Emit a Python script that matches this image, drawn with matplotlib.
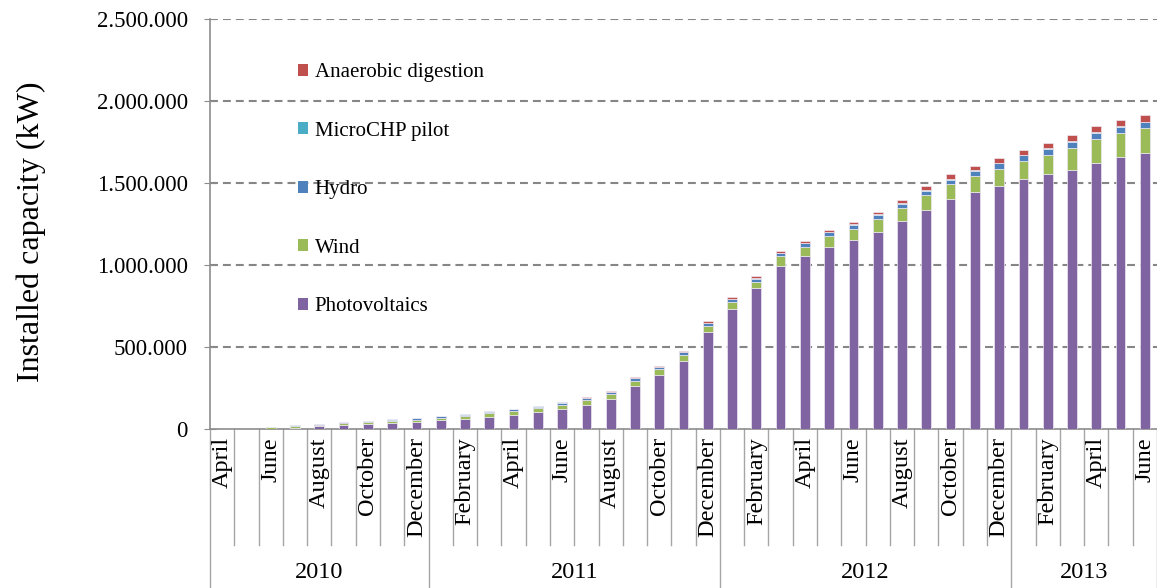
import matplotlib
matplotlib.use("Agg")
import matplotlib.pyplot as plt
from matplotlib.patches import Patch
from matplotlib.ticker import FuncFormatter, MultipleLocator
import matplotlib.transforms as mtransforms
import numpy as np

plt.rcParams['font.family'] = ['Liberation Serif', 'DejaVu Serif']

# months April 2010 .. June 2013
months = ['April', 'May', 'June', 'July', 'August', 'September', 'October', 'November', 'December',
          'January', 'February', 'March', 'April', 'May', 'June', 'July', 'August', 'September',
          'October', 'November', 'December',
          'January', 'February', 'March', 'April', 'May', 'June', 'July', 'August', 'September',
          'October', 'November', 'December',
          'January', 'February', 'March', 'April', 'May', 'June']
years = ['2010', '2011', '2012', '2013']
year_len = [9, 12, 12, 6]

# installed capacity (kW)
pv = [0, 0, 2000, 6000, 17000, 23000, 29000, 35000, 41000,
      53000, 63000, 75000, 87000, 106000, 124000, 148000, 185000, 264000, 331000, 417000, 593000,
      734000, 858000, 996000, 1053000, 1110000, 1150000, 1203000, 1270000, 1337000, 1400000, 1447000, 1484000,
      1526000, 1555000, 1581000, 1624000, 1659000, 1681000]
wind = [0, 0, 8000, 10000, 10000, 13000, 13000, 14000, 16000,
        15000, 16000, 20000, 21000, 20000, 24000, 27000, 27000, 31000, 33000, 35000, 35000,
        39000, 41000, 57000, 59000, 67000, 71000, 77000, 79000, 87000, 91000, 98000, 102000,
        108000, 118000, 132000, 144000, 148000, 152000]
hydro = [0, 0, 4000, 5000, 5000, 7000, 7000, 8000, 9000,
         9000, 9000, 11000, 11000, 10000, 12000, 13000, 13000, 14000, 15000, 15000, 18000,
         19000, 18000, 20000, 20000, 22000, 24000, 26000, 26000, 28000, 30000, 30000, 35000,
         35000, 35000, 37000, 37000, 36000, 36000]
microchp = [0, 0, 1000, 1000, 1000, 1000, 1000, 1000, 1000,
            2000, 2000, 2000, 2000, 2000, 2000, 2000, 2000, 2000, 2000, 2000, 3000,
            3000, 3000, 3000, 3000, 3000, 3000, 3000, 3000, 3000, 4000, 4000, 4000,
            4000, 4000, 4000, 4000, 4000, 4000]
anaerobic = [0, 0, 0, 0, 0, 0, 0, 0, 0,
             1000, 1000, 1000, 1000, 2000, 2000, 4000, 4000, 5000, 6000, 7000, 9000,
             9000, 10000, 12000, 12000, 12000, 16000, 16000, 16000, 25000, 27000, 27000, 27000,
             29000, 31000, 37000, 39000, 39000, 43000]

series = [('Photovoltaics', pv, '#8064A2'),
          ('Wind', wind, '#9BBB59'),
          ('Hydro', hydro, '#4F81BD'),
          ('MicroCHP pilot', microchp, '#4BACC6'),
          ('Anaerobic digestion', anaerobic, '#C0504D')]

fig = plt.figure(figsize=(11.57, 5.88), dpi=100)
ax = fig.add_axes([210 / 1157, (588 - 429) / 588, 947 / 1157, 410 / 588])

x = np.arange(len(months))
bottom = np.zeros(len(months))
handles = []
for name, vals, col in series:
    ax.bar(x, vals, 0.4, bottom=bottom, color=col, edgecolor='#EDE8F2', linewidth=0.5, zorder=3)
    bottom += np.array(vals)
    handles.append(Patch(facecolor=col, label=name))

ax.set_xlim(-0.5, len(months) - 0.5)
ax.set_ylim(0, 2500000)
ax.yaxis.set_major_locator(MultipleLocator(500000))
ax.yaxis.set_major_formatter(FuncFormatter(lambda v, p: '{:,.0f}'.format(v).replace(',', '.')))
for yv in range(500000, 2500001, 500000):
    ax.axhline(yv, color='#868686', lw=1.5, dashes=(3.8, 2.4), zorder=1)

for s in ['top', 'right']:
    ax.spines[s].set_visible(False)
ax.spines['left'].set_color('#8C8C8C')
ax.spines['bottom'].set_color('#8C8C8C')
ax.spines['left'].set_linewidth(1.2)
ax.spines['bottom'].set_linewidth(1.2)
ax.tick_params(axis='y', direction='inout', length=8, color='#8C8C8C', labelsize=16.5, pad=12)
ax.set_xticks([])

ax.set_ylabel('Installed capacity (kW)', fontsize=23)
ax.yaxis.set_label_coords(-164 / 947, 0.48)

# category axis below the plot
trans = mtransforms.blended_transform_factory(ax.transData, ax.transAxes)
month_bot = (429 - 545) / 410
fig_bot = (429 - 588) / 410
year_starts = np.cumsum([0] + year_len)
for b in range(len(months) + 1):
    xb = b - 0.5
    low = fig_bot if b in year_starts else month_bot
    ax.plot([xb, xb], [0, low], color='#A6A6A6', lw=1.0, transform=trans, clip_on=False)
for i in range(0, len(months), 2):
    ax.text(i, (429 - 437) / 410, months[i], rotation=90, ha='center', va='top',
            fontsize=17.5, transform=trans)
for k, yr in enumerate(years):
    xc = (year_starts[k] + year_starts[k + 1]) / 2 - 0.5
    ax.text(xc, (429 - 572) / 410, yr, ha='center', va='center', fontsize=17.5, transform=trans)

ax.legend(handles=handles[::-1], loc='upper left', bbox_to_anchor=((298 - 210) / 947, (429 - 63) / 410),
          frameon=False, fontsize=15, handlelength=0.5, handleheight=0.5, handletextpad=0.3,
          labelspacing=1.9, borderpad=0, borderaxespad=0)

fig.savefig('out.png', dpi=100)
